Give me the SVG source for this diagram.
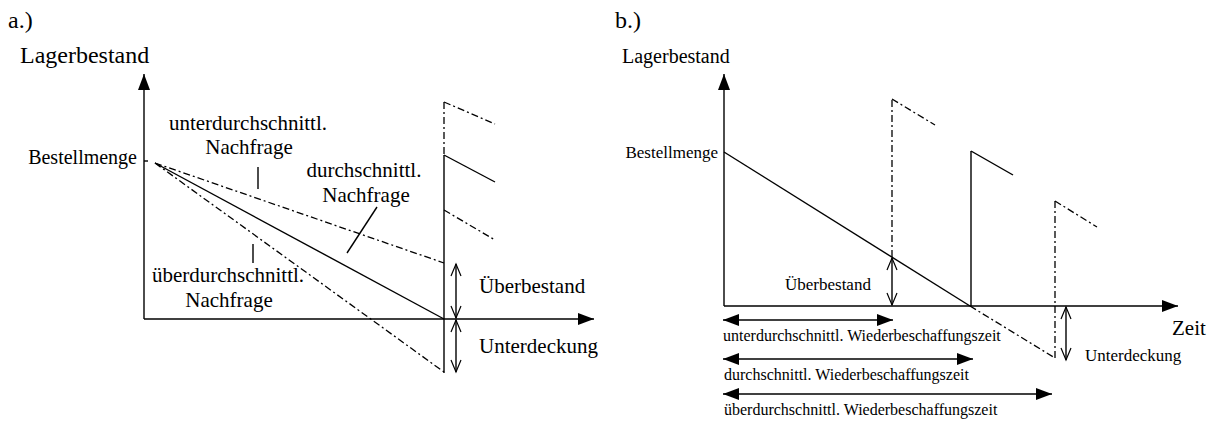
<svg xmlns="http://www.w3.org/2000/svg" width="1211" height="423" viewBox="0 0 1211 423">
<style>
text{font-family:"Liberation Serif","Times New Roman",serif;fill:#000}
.s{stroke:#000;stroke-width:1.4;fill:none}
.d{stroke:#000;stroke-width:1.3;fill:none;stroke-dasharray:7 3 2 3}
.t24{font-size:24px}.t21{font-size:21px}.t20{font-size:20px}.t17{font-size:17px}.t16{font-size:16px}
</style>
<defs>
<marker id="fa" viewBox="0 0 16 12" refX="16" refY="6" markerWidth="16" markerHeight="12" markerUnits="userSpaceOnUse" orient="auto-start-reverse"><path d="M0,0 L16,6 L0,12 Z" fill="#000"/></marker>
<marker id="oa" viewBox="-1 -1 14 12" refX="12" refY="5" markerWidth="14" markerHeight="12" markerUnits="userSpaceOnUse" orient="auto-start-reverse" overflow="visible"><path d="M0,0 L12,5 L0,10" fill="none" stroke="#000" stroke-width="1.2"/></marker>
</defs>

<g id="panel-a">
<text id="a-title" class="t24" x="8" y="28">a.)</text>
<text id="a-ylabel" class="t24" x="20" y="63">Lagerbestand</text>
<text id="a-bestellmenge" class="t20" x="137" y="164" text-anchor="end">Bestellmenge</text>
<g id="a-label-unter"><text class="t21" x="248" y="130" text-anchor="middle">unterdurchschnittl.</text><text class="t21" x="249" y="154" text-anchor="middle">Nachfrage</text></g>
<g id="a-label-durch"><text class="t21" x="364" y="177" text-anchor="middle">durchschnittl.</text><text class="t21" x="366" y="202" text-anchor="middle">Nachfrage</text></g>
<g id="a-label-ueber"><text class="t21" x="228" y="282" text-anchor="middle">überdurchschnittl.</text><text class="t21" x="229" y="307" text-anchor="middle">Nachfrage</text></g>
<text id="a-ueberbestand" class="t21" x="479" y="293">Überbestand</text>
<text id="a-unterdeckung" class="t21" x="479" y="353">Unterdeckung</text>
</g>

<g id="panel-b">
<text id="b-title" class="t24" x="615" y="28">b.)</text>
<text id="b-ylabel" class="t20" x="622" y="63">Lagerbestand</text>
<text id="b-bestellmenge" class="t17" x="718" y="158" text-anchor="end">Bestellmenge</text>
<text id="b-ueberbestand" class="t17" x="785" y="290">Überbestand</text>
<text id="b-unterdeckung" class="t17" x="1085" y="361">Unterdeckung</text>
<text id="b-zeit" class="t21" x="1172" y="335">Zeit</text>
<text id="b-t1" class="t16" x="723" y="341">unterdurchschnittl. Wiederbeschaffungszeit</text>
<text id="b-t2" class="t16" x="724" y="380">durchschnittl. Wiederbeschaffungszeit</text>
<text id="b-t3" class="t16" x="724" y="415">überdurchschnittl. Wiederbeschaffungszeit</text>
</g>

<g id="connectors">
<!-- panel a axes -->
<line class="s" x1="144" y1="319" x2="144" y2="74" marker-end="url(#fa)"/>
<line class="s" x1="144" y1="319" x2="594" y2="319" marker-end="url(#fa)"/>
<line class="s" x1="144" y1="161" x2="148" y2="161"/>
<!-- demand lines -->
<line class="d" x1="155" y1="163" x2="444" y2="263"/>
<line class="s" x1="155" y1="163" x2="444" y2="319"/>
<line class="d" x1="155" y1="163" x2="444" y2="372"/>
<!-- replenishment -->
<line class="d" x1="444" y1="102" x2="444" y2="155"/>
<line class="s" x1="444" y1="155" x2="444" y2="373"/>
<line class="d" x1="444" y1="102" x2="495" y2="124"/>
<line class="s" x1="444" y1="155" x2="495" y2="182"/>
<line class="d" x1="444" y1="210" x2="495" y2="240"/>
<!-- leaders -->
<line class="s" x1="258" y1="167" x2="258" y2="189" stroke-width="1"/>
<line class="s" x1="377" y1="207" x2="347" y2="253" stroke-width="1"/>
<line class="s" x1="253" y1="244" x2="253" y2="263" stroke-width="1"/>
<!-- a dimension arrows -->
<line class="s" x1="456" y1="264" x2="456" y2="318" stroke-width="1.2" marker-start="url(#oa)" marker-end="url(#oa)"/>
<line class="s" x1="456" y1="320" x2="456" y2="372" stroke-width="1.2" marker-start="url(#oa)" marker-end="url(#oa)"/>

<!-- panel b axes -->
<line class="s" x1="724" y1="306" x2="724" y2="74" marker-end="url(#fa)"/>
<line class="s" x1="724" y1="306" x2="1178" y2="306" marker-end="url(#fa)"/>
<!-- b demand -->
<line class="s" x1="724" y1="152" x2="970" y2="306"/>
<line class="d" x1="970" y1="306" x2="1055" y2="358"/>
<!-- b replenishments -->
<line class="d" x1="892" y1="257" x2="892" y2="99"/>
<line class="d" x1="892" y1="99" x2="935" y2="125"/>
<line class="s" x1="971" y1="306" x2="971" y2="151"/>
<line class="s" x1="971" y1="151" x2="1013" y2="175"/>
<line class="d" x1="1055" y1="358" x2="1055" y2="201"/>
<line class="d" x1="1055" y1="201" x2="1097" y2="227"/>
<!-- b dimension arrows -->
<line class="s" x1="892" y1="258" x2="892" y2="305" stroke-width="1.2" marker-start="url(#oa)" marker-end="url(#oa)"/>
<line class="s" x1="1066" y1="307" x2="1066" y2="360" stroke-width="1.2" marker-start="url(#oa)" marker-end="url(#oa)"/>
<!-- time arrows -->
<line class="s" x1="723" y1="320" x2="893" y2="320" marker-start="url(#fa)" marker-end="url(#fa)"/>
<line class="s" x1="723" y1="359" x2="973" y2="359" marker-start="url(#fa)" marker-end="url(#fa)"/>
<line class="s" x1="723" y1="394" x2="1052" y2="394" marker-start="url(#fa)" marker-end="url(#fa)"/>
</g>
</svg>
